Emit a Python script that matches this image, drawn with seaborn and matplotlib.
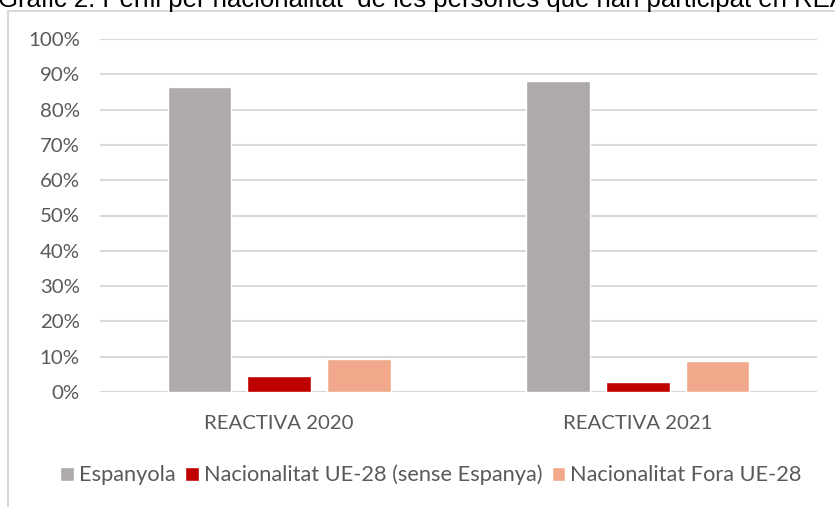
import seaborn as sns
import pandas as pd
import matplotlib.pyplot as plt
from matplotlib.patches import Rectangle
from matplotlib.ticker import PercentFormatter

# values (share of participants, %)
editions = ['REACTIVA 2020', 'REACTIVA 2021']
groups = ['Espanyola', 'Nacionalitat UE-28 (sense Espanya)', 'Nacionalitat Fora UE-28']
espanyola = [86.4, 88.0]
ue28 = [4.4, 2.8]
fora_ue28 = [9.3, 8.9]
colors = ['#AEAAAA', '#C00000', '#F1A88B']

rows = []
for i, ed in enumerate(editions):
    for g, vals in zip(groups, [espanyola, ue28, fora_ue28]):
        rows.append({'edicio': ed, 'nacionalitat': g, 'pct': vals[i]})
df = pd.DataFrame(rows)

sns.set_style('white')
plt.rcParams['font.family'] = ['Lato', 'DejaVu Sans']

fig = plt.figure(figsize=(8.35, 5.07), dpi=100)
ax = fig.add_axes([100 / 835, 1 - 392 / 507, 717 / 835, 353 / 507])

sns.barplot(data=df, x='edicio', y='pct', hue='nacionalitat', palette=colors,
            saturation=1, width=0.667, gap=0.2, ax=ax, legend=True)

ax.set_ylim(0, 100)
ax.set_xlim(-0.5, 1.5)
ax.set_yticks(range(0, 101, 10))
ax.yaxis.set_major_formatter(PercentFormatter(decimals=0))
ax.yaxis.grid(True, color='#D9D9D9', linewidth=1.5)
ax.set_axisbelow(True)
for s in ax.spines.values():
    s.set_visible(False)
ax.set_xlabel('')
ax.set_ylabel('')
ax.tick_params(axis='both', length=0, labelsize=14.7, colors='#595959')
ax.tick_params(axis='y', pad=14.5)
ax.tick_params(axis='x', pad=16.5)

handles, labels = ax.get_legend_handles_labels()
ax.legend_.remove()
fig.legend(handles, labels, loc='center', bbox_to_anchor=(431 / 835, 1 - 475 / 507),
           ncol=3, frameon=False, fontsize=15.7, handlelength=0.62, handleheight=0.62,
           handletextpad=0.23, columnspacing=0.45, labelcolor='#595959')

# chart frame and the cut-off title
fig.patches.append(Rectangle((8 / 835, -0.1), 1.2, 1.1 - 11 / 507, transform=fig.transFigure,
                             fill=False, edgecolor='#D9D9D9', linewidth=1.5))
fig.text(-0.002, 1 - 7 / 507, 'Gràfic 2. Perfil per nacionalitat  de les persones que han participat en REACTIVA',
         fontsize=18.5, family=['Liberation Sans'], color='black', va='baseline', ha='left')

fig.savefig('out.png', dpi=100)
